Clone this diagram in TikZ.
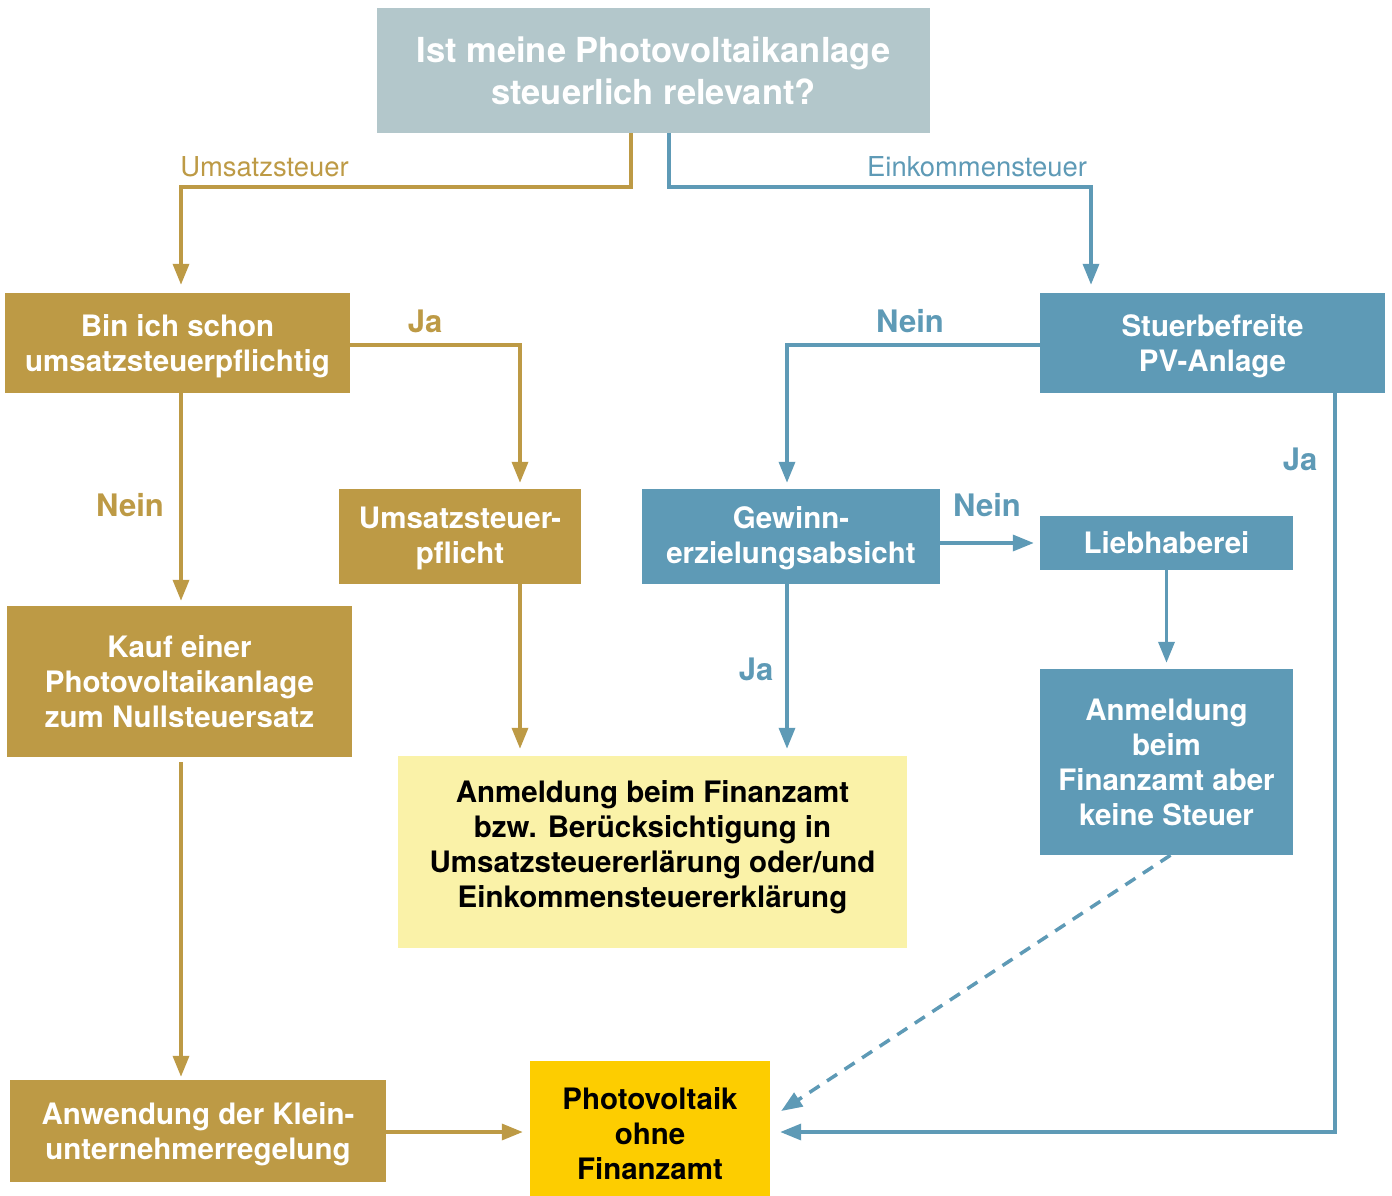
\documentclass[tikz,border=0pt]{standalone}
\usepackage{fontspec}
\setmainfont{TeX Gyre Heros}
\usetikzlibrary{arrows.meta}
\definecolor{gold}{RGB}{189,154,69}
\definecolor{bluec}{RGB}{94,154,182}
\definecolor{topgray}{RGB}{179,199,203}
\definecolor{lightyel}{RGB}{250,242,168}
\definecolor{yel}{RGB}{253,205,0}
\begin{document}
\begin{tikzpicture}[x=1pt,y=-1pt,
  boxstyle/.style={inner sep=0pt, align=center, text=white, text depth=0pt, font=\bfseries\fontsize{29.5}{35}\selectfont},
  goldbox/.style={boxstyle, fill=gold},
  bluebox/.style={boxstyle, fill=bluec},
  conn/.style={line width=3.5pt, -{Triangle[length=21pt,width=16pt]}},
  goldline/.style={conn, draw=gold},
  blueline/.style={conn, draw=bluec},
  smalllab/.style={font=\fontsize{27.4}{30}\selectfont},
  boldlab/.style={font=\bfseries\fontsize{31}{34}\selectfont}]
\path[use as bounding box] (0,0) rectangle (1392,1196);

\node[boxstyle, fill=topgray, minimum width=553pt, minimum height=125pt, font=\bfseries\fontsize{34.5}{42}\selectfont] (top) at (653.5,70.5) {Ist meine Photovoltaikanlage\\steuerlich relevant?};
\node[goldbox, minimum width=345pt, minimum height=100pt] (bin) at (177.5,343) {Bin ich schon\\umsatzsteuerpflichtig};
\node[bluebox, minimum width=345pt, minimum height=100pt] (stuer) at (1212.5,343) {Stuerbefreite\\PV-Anlage};
\node[goldbox, minimum width=242pt, minimum height=95pt, text depth=3pt] (ustp) at (460,536.5) {Umsatzsteuer-\\pflicht};
\node[bluebox, minimum width=298pt, minimum height=95pt, text depth=3pt] (gew) at (791,536.5) {Gewinn-\\erzielungsabsicht};
\node[bluebox, minimum width=253pt, minimum height=54pt] (lieb) at (1166.5,543) {Liebhaberei};
\node[goldbox, minimum width=345pt, minimum height=151pt] (kauf) at (179.5,681.5) {Kauf einer\\Photovoltaikanlage\\zum Nullsteuersatz};
\node[fill=lightyel, inner sep=0pt, minimum width=509pt, minimum height=192pt,
  label={[boxstyle, text=black, yshift=8pt]center:{Anmeldung beim Finanzamt\\bzw. Berücksichtigung in\\Umsatzsteuererlärung oder/und\\Einkommensteuererklärung}}] (anm) at (652.5,852) {};
\node[bluebox, minimum width=253pt, minimum height=186pt] (anmb) at (1166.5,762) {Anmeldung\\beim\\Finanzamt aber\\keine Steuer};
\node[goldbox, minimum width=376pt, minimum height=102pt] (klein) at (198,1131) {Anwendung der Klein-\\unternehmerregelung};
\node[boxstyle, text=black, fill=yel, minimum width=240pt, minimum height=144pt] (photo) at (650,1133) {Photovoltaik\\ohne\\Finanzamt};

% labels
\node[smalllab, text=gold] (lust) at (264.5,167) {Umsatzsteuer};
\node[smalllab, text=bluec] (lek) at (977,167) {Einkommensteuer};
\node[boldlab, text=gold] (lja1) at (425,321) {Ja};
\node[boldlab, text=gold] (lnein1) at (130,505) {Nein};
\node[boldlab, text=bluec] (lnein2) at (910,321) {Nein};
\node[boldlab, text=bluec] (lja2) at (1300,459) {Ja};
\node[boldlab, text=bluec] (lnein3) at (987,505) {Nein};
\node[boldlab, text=bluec] (lja3) at (756,669) {Ja};

% connectors
\draw[goldline, shorten >=8pt] ([xshift=-22.5pt]top.south) -- ++(0,54) -| ([xshift=3.5pt]bin.north);
\draw[blueline, shorten >=8pt] ([xshift=15.5pt]top.south) -- ++(0,54) -| ([xshift=-121.5pt]stuer.north);
\draw[goldline, shorten >=6pt] ([yshift=-2pt]bin.east) -| ([xshift=60pt]ustp.north);
\draw[goldline, shorten >=5pt] ([xshift=3.5pt]bin.south) -- ([xshift=1.5pt]kauf.north);
\draw[goldline, shorten >=7pt] ([xshift=60pt]ustp.south) -- ([xshift=60pt]ustp.south |- anm.north);
\draw[blueline, shorten >=6pt] ([yshift=-2pt]stuer.west) -| ([xshift=-4pt]gew.north);
\draw[blueline, shorten >=10pt] ([xshift=122.5pt]stuer.south) |- ([yshift=1pt]photo.east);
\draw[blueline, shorten >=6pt] (gew.east |- lieb.west) -- (lieb.west);
\draw[blueline, shorten >=7pt] ([xshift=-4pt]gew.south) -- ([xshift=-4pt]gew.south |- anm.north);
\draw[blueline, shorten >=6pt] (lieb.south) -- (anmb.north);
\draw[blueline, dash pattern=on 12pt off 9pt] ([xshift=4pt]anmb.south) -- ([xshift=11pt,yshift=22pt]photo.east);
\draw[goldline, shorten >=3pt] ([xshift=1.5pt,yshift=-5pt]kauf.south) -- ([xshift=-17pt]klein.north);
\draw[goldline, shorten >=7pt] ([yshift=-1pt]klein.east) -- ([yshift=-1pt]klein.east -| photo.west);
\end{tikzpicture}
\end{document}
